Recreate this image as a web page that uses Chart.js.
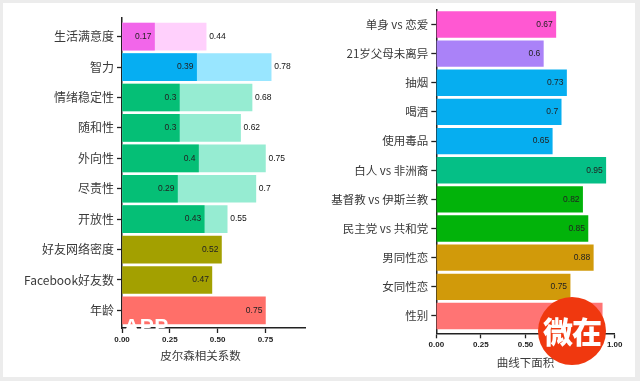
<!DOCTYPE html>
<html>
<head>
<meta charset="utf-8">
<script src="https://cdn.jsdelivr.net/npm/chart.js@4"></script>
<style>
  html, body { margin: 0; padding: 0; background: #ececec; }
  #page { position: relative; width: 640px; height: 381px; overflow: hidden; }
  #card { position: absolute; left: 3px; top: 3px; width: 632px; height: 374px; background: #fff; }
  .box { position: absolute; top: 0; height: 381px; filter: blur(0.4px); }
  #leftBox { left: 0; width: 320px; }
  #rightBox { left: 320px; width: 320px; }
  #wm { position: absolute; left: 124px; top: 314px; color: #fff; font: bold 21px "Liberation Sans", sans-serif; letter-spacing: 0.5px; }
  #badge { position: absolute; left: 538px; top: 297px; width: 68px; height: 68px; border-radius: 50%; background: #f0380f;
    color: #fff; font: 900 30px/66px "Noto Sans CJK SC", sans-serif; text-align: center; letter-spacing: -1px; }
</style>
</head>
<body>
<div id="page">
  <div id="card"></div>
  <div class="box" id="leftBox"><canvas id="leftChart"></canvas></div>
  <div class="box" id="rightBox"><canvas id="rightChart"></canvas></div>
  <div id="wm">APP</div>
  <div id="badge">微在</div>
</div>
<script>
// Left panel
const leftCategories = ["生活满意度", "智力", "情绪稳定性", "随和性", "外向性", "尽责性", "开放性", "好友网络密度", "Facebook好友数", "年龄"];
const leftDark = [0.17, 0.39, 0.3, 0.3, 0.4, 0.29, 0.43, 0.52, 0.47, 0.75];
const leftLight = [0.44, 0.78, 0.68, 0.62, 0.75, 0.7, 0.55, null, null, null];
const leftDarkColors = ["#f266ea", "#06aef2", "#05bf76", "#05bf76", "#05bf76", "#05bf76", "#05bf76", "#a3a000", "#a3a000", "#ff6f69"];
const leftLightColors = ["#ffd0fc", "#99e6ff", "#96ecd2", "#96ecd2", "#96ecd2", "#96ecd2", "#96ecd2", "#fff", "#fff", "#fff"];
const leftTicks = [0, 0.25, 0.5, 0.75];

// Right panel
const rightCategories = ["单身 vs 恋爱", "21岁父母未离异", "抽烟", "喝酒", "使用毒品", "白人 vs 非洲裔", "基督教 vs 伊斯兰教", "民主党 vs 共和党", "男同性恋", "女同性恋", "性别"];
const rightValues = [0.67, 0.6, 0.73, 0.7, 0.65, 0.95, 0.82, 0.85, 0.88, 0.75, 0.93];
const rightColors = ["#ff58d2", "#aa82f8", "#06aef0", "#06aef0", "#06aef0", "#05bf86", "#02b30a", "#02b30a", "#d19a0a", "#d19a0a", "#ff7474"];
const rightTicks = [0, 0.25, 0.5, 0.75, 1];

const CJK = '"Noto Sans CJK SC", sans-serif';
const LATIN = '"Liberation Sans", sans-serif';

// value labels next to the bar ends, plus the x axis title (it sits off centre on the left panel)
const barLabels = {
  id: "barLabels",
  afterDatasetsDraw(chart, args, opts) {
    const ctx = chart.ctx;
    ctx.save();
    ctx.font = "8.5px " + LATIN;
    ctx.textBaseline = "middle";
    chart.data.datasets.forEach((ds, i) => {
      chart.getDatasetMeta(i).data.forEach((el, j) => {
        if (ds.data[j].x == null) return;
        const text = String(ds.data[j].x);
        if (ds.outside) {
          ctx.textAlign = "left";
          ctx.fillStyle = "#111";
          ctx.fillText(text, el.x + 3, el.y);
        } else {
          ctx.textAlign = "right";
          ctx.fillStyle = "#222";
          ctx.fillText(text, el.x - 3, el.y);
        }
      });
    });
    ctx.font = "11.5px " + CJK;
    ctx.textAlign = "center";
    ctx.fillStyle = "#3a3a3a";
    ctx.fillText(opts.title, chart.scales.x.getPixelForValue(opts.titleAt), opts.titleY);
    ctx.restore();
  },
};

function points(values) {
  return values.map((v, i) => ({ x: v, y: i }));
}

function makeChart(id, cfg) {
  return new Chart(document.getElementById(id), {
    type: "bar",
    data: { datasets: cfg.datasets },
    plugins: [barLabels],
    options: {
      indexAxis: "y",
      responsive: true,
      maintainAspectRatio: false,
      animation: false,
      layout: { padding: { top: cfg.top, right: cfg.right, left: 0, bottom: 0 } },
      plugins: {
        legend: { display: false },
        tooltip: { enabled: false },
        barLabels: { title: cfg.xTitle, titleAt: cfg.titleAt, titleY: cfg.titleY },
      },
      scales: {
        y: {
          type: "linear",
          reverse: true,
          offset: false,
          min: cfg.yMin,
          max: cfg.yMax,
          afterFit: (s) => { s.width = cfg.axisLeft; },
          afterBuildTicks: (s) => { s.ticks = cfg.categories.map((c, i) => ({ value: i })); },
          grid: { offset: false, drawOnChartArea: false, color: "#222", tickLength: 5, tickWidth: 1.3 },
          border: { color: "#222", width: 1.5 },
          ticks: {
            autoSkip: false,
            padding: 3,
            color: "#3a3a3a",
            font: { family: CJK, size: cfg.catSize },
            callback: (v) => cfg.categories[v],
          },
        },
        x: {
          type: "linear",
          min: 0,
          max: cfg.xMax,
          afterFit: (s) => { s.height = 381 - cfg.axisBottom; },
          afterBuildTicks: (s) => { s.ticks = cfg.xTicks.map((v) => ({ value: v })); },
          grid: { drawOnChartArea: false, color: "#222", tickLength: 5, tickWidth: 1.3 },
          border: { color: "#222", width: 1.5 },
          ticks: {
            maxRotation: 0,
            padding: 2,
            color: "#222",
            font: { family: LATIN, size: 8, weight: "bold" },
            callback: (v) => v.toFixed(2),
          },
        },
      },
    },
  });
}

makeChart("leftChart", {
  categories: leftCategories,
  xTicks: leftTicks,
  xTitle: "皮尔森相关系数",
  titleAt: 0.41,
  titleY: 356,
  axisLeft: 122,
  axisBottom: 328,
  top: 18,
  right: 15,
  xMax: 0.957,
  yMin: -0.615,
  yMax: 9.58,
  catSize: 12,
  datasets: [
    { data: points(leftDark), backgroundColor: leftDarkColors, barThickness: 27, grouped: false, order: 1 },
    { data: points(leftLight), backgroundColor: leftLightColors, barThickness: 27, grouped: false, order: 2, outside: true },
  ],
});

makeChart("rightChart", {
  categories: rightCategories,
  xTicks: rightTicks,
  xTitle: "曲线下面积",
  titleAt: 0.5,
  titleY: 363,
  axisLeft: 116.3,
  axisBottom: 333.3,
  top: 10,
  right: 25.3,
  xMax: 1,
  yMin: -0.497,
  yMax: 10.595,
  catSize: 11.5,
  datasets: [
    { data: points(rightValues), backgroundColor: rightColors, barThickness: 25.7 },
  ],
});
</script>
</body>
</html>
